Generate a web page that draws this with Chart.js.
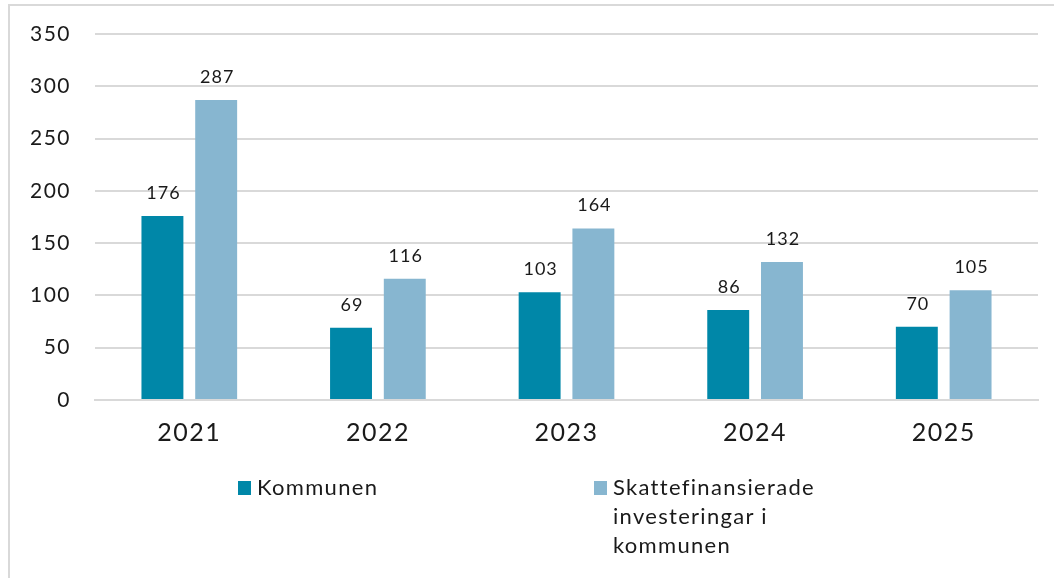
<!DOCTYPE html>
<html>
<head>
<meta charset="utf-8">
<script src="https://cdn.jsdelivr.net/npm/chart.js@4"></script>
<style>
  html, body { margin: 0; padding: 0; background: #fff; }
  body { width: 1054px; height: 578px; position: relative; overflow: hidden; font-family: Lato, sans-serif; }
  #frame { position: absolute; left: 8px; top: 4px; width: 1060px; height: 600px; border-left: 2px solid #d9d9d9; border-top: 2px solid #d9d9d9; box-sizing: border-box; }
  #wrap { position: absolute; left: 0; top: 0; width: 1054px; height: 578px; }
  .leg { position: absolute; font-size: 22px; color: #1a1a1a; line-height: 29px; letter-spacing: 1.3px; }
  .sw { position: absolute; width: 13px; height: 14px; top: 9px; }
</style>
</head>
<body>
<div id="frame"></div>
<div id="wrap"><canvas id="c" width="1054" height="578"></canvas></div>
<div class="leg" id="leg1" style="left:238px; top:472px;"><span class="sw" style="left:0; background:#0087A8;"></span><span style="margin-left:19px;">Kommunen</span></div>
<div class="leg" id="leg2" style="left:594px; top:472px;"><span class="sw" style="left:0; background:#87B6D0;"></span><div style="margin-left:19px;">Skattefinansierade<br>investeringar i<br>kommunen</div></div>
<script>
const categories = ["2021", "2022", "2023", "2024", "2025"];
const kommunen = [176, 69, 103, 86, 70];
const skattefinansierade = [287, 116, 164, 132, 105];
const seriesNames = ["Kommunen", "Skattefinansierade investeringar i kommunen"];
const yTicks = [0, 50, 100, 150, 200, 250, 300, 350];

const FONT = 'Lato, sans-serif';

const spacing = {
  id: 'spacing',
  beforeDraw(chart) { chart.ctx.letterSpacing = '1.5px'; }
};

const valueLabels = {
  id: 'valueLabels',
  afterDatasetsDraw(chart) {
    const ctx = chart.ctx;
    ctx.save();
    ctx.letterSpacing = '1px';
    ctx.font = '18px ' + FONT;
    ctx.fillStyle = '#1a1a1a';
    ctx.textAlign = 'center';
    ctx.textBaseline = 'middle';
    chart.data.datasets.forEach((ds, i) => {
      const meta = chart.getDatasetMeta(i);
      meta.data.forEach((bar, j) => {
        ctx.fillText(String(ds.data[j]), bar.x + 1, bar.y - 23);
      });
    });
    ctx.restore();
  }
};

new Chart(document.getElementById('c'), {
  type: 'bar',
  data: {
    labels: categories,
    datasets: [
      { label: seriesNames[0], data: kommunen, backgroundColor: '#0087A8', categoryPercentage: 0.57, barPercentage: 0.78 },
      { label: seriesNames[1], data: skattefinansierade, backgroundColor: '#87B6D0', categoryPercentage: 0.57, barPercentage: 0.78 }
    ]
  },
  options: {
    responsive: false,
    animation: false,
    layout: { padding: { left: 0, right: 16, top: 34, bottom: 100 } },
    plugins: { legend: { display: false }, tooltip: { enabled: false } },
    scales: {
      x: {
        afterFit(axis) { axis.height = 78; },
        grid: { display: false, drawTicks: false },
        border: { display: true, color: '#d9d9d9', width: 2 },
        ticks: { font: { size: 25, family: FONT }, color: '#1a1a1a', padding: 18 }
      },
      y: {
        min: 0, max: 350,
        afterFit(axis) { axis.width = 95; axis.paddingTop = 0; axis.paddingBottom = 0; },
        afterBuildTicks(axis) { axis.ticks = yTicks.map(v => ({ value: v })); },
        grid: { color: '#d9d9d9', lineWidth: 2, drawTicks: false },
        border: { display: false },
        ticks: { font: { size: 21, family: FONT, lineHeight: 1 }, color: '#1a1a1a', padding: 24 }
      }
    }
  },
  plugins: [spacing, valueLabels]
});
</script>
</body>
</html>
